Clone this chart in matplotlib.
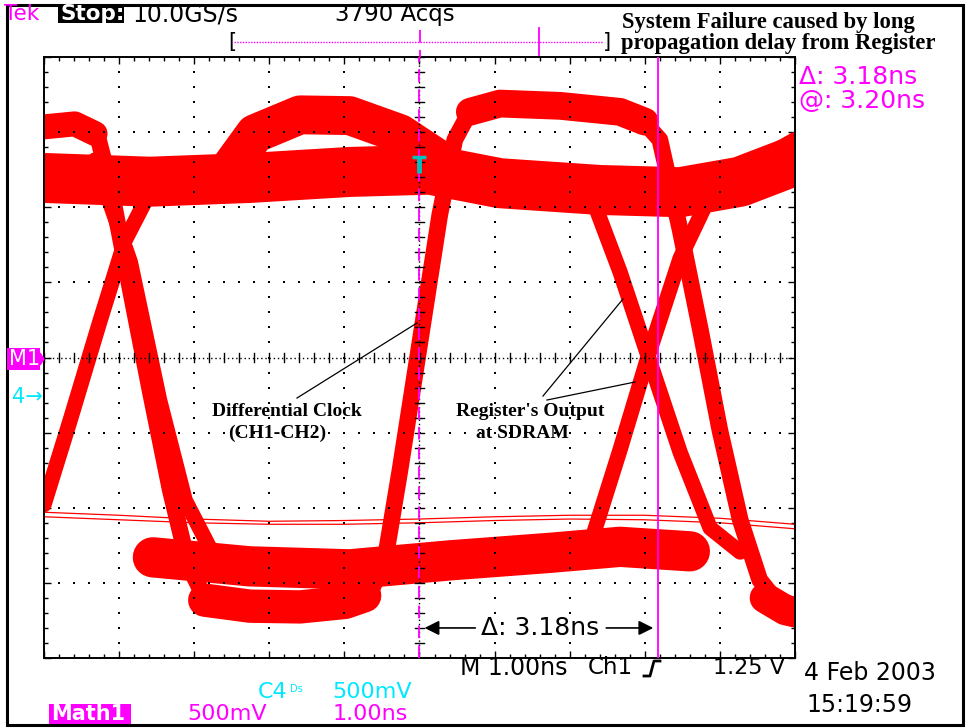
import numpy as np
import matplotlib.pyplot as plt
from matplotlib.patches import Rectangle, Polygon

# screen colours
RED = "#ff0000"
MAG = "#ff00ff"
CYAN = "#00e8ff"
TEAL = "#00c0c0"

# waveform readings: time in ns (1 ns/div), level in divisions
clk_t = [-5.0, -4.52, -4.28, -4.12, -3.85, -3.59, -3.32, -3.08, -2.86, -2.26, -1.59, -0.93,
         -0.63, -0.46, -0.26, 0.01, 0.27, 0.47, 0.67, 0.94, 2.40, 2.94, 3.20, 3.47, 3.74,
         4.00, 4.27, 4.53, 4.80, 5.0]
clk_v = [3.10, 3.11, 2.92, 2.30, 0.90, -0.43, -1.76, -2.76, -3.20, -3.31, -3.31, -3.23,
         -3.07, -2.70, -1.50, 0.23, 1.90, 2.90, 3.27, 3.36, 3.30, 3.19, 2.90, 1.70, 0.37,
         -0.97, -2.16, -2.96, -3.30, -3.39]

# flat parts of the clock (wider persistence)
clk_hi1_t = [-5.0, -4.59, -4.32]
clk_hi1_v = [3.07, 3.11, 2.98]
clk_lo1_t = [-2.86, -2.26, -1.59, -0.99, -0.73]
clk_lo1_v = [-3.23, -3.31, -3.32, -3.26, -3.17]
clk_hi2_t = [0.67, 1.07, 1.87, 2.67, 3.00]
clk_hi2_v = [3.27, 3.38, 3.35, 3.27, 3.14]
clk_lo2_t = [4.60, 4.87, 5.0]
clk_lo2_v = [-3.20, -3.36, -3.39]

hi_t = [-5.0, -3.59, -2.26, -0.93, 0.14, 1.07, 2.40, 3.47, 4.27, 5.0]
hi_v = [2.39, 2.34, 2.39, 2.47, 2.50, 2.32, 2.23, 2.20, 2.34, 2.62]

hump_t = [-2.59, -2.19, -1.59, -0.93, -0.26, 0.27]
hump_v = [2.43, 2.98, 3.23, 3.22, 2.98, 2.63]

lo_t = [-3.55, -2.26, -0.93, 0.41, 1.74, 2.67, 3.60]
lo_v = [-2.66, -2.78, -2.82, -2.70, -2.60, -2.52, -2.58]

fall1_t = [-4.32, -3.85, -3.46, -3.12, -2.79]
fall1_v = [2.63, 1.27, -0.57, -1.90, -2.54]
rise1_t = [-5.0, -4.65, -4.25, -3.92, -3.59]
rise1_v = [-1.96, -0.83, 0.50, 1.56, 2.20]
fall2_t = [2.27, 2.67, 3.07, 3.47, 3.87, 4.27]
fall2_v = [2.20, 1.14, -0.06, -1.26, -2.27, -2.59]
rise2_t = [2.27, 2.67, 3.07, 3.47, 3.87, 4.40, 5.0]
rise2_v = [-2.50, -1.23, 0.10, 1.32, 2.16, 2.56, 2.90]

ch4_t = [-5, -4, -3, -2, -1, 0, 1, 2, 3, 4, 5]
ch4_a = [-2.06, -2.10, -2.15, -2.18, -2.17, -2.15, -2.12, -2.10, -2.10, -2.14, -2.22]
ch4_b = [-2.12, -2.16, -2.20, -2.22, -2.22, -2.20, -2.17, -2.15, -2.16, -2.20, -2.28]

W, H = 968, 728
fig = plt.figure(figsize=(W / 100, H / 100), dpi=100)


def txt(x, y, s, **kw):
    fig.text(x / W, 1 - y / H, s, **kw)


def box(x0, y0, x1, y1, c):
    fig.add_artist(Rectangle((x0 / W, 1 - y1 / H), (x1 - x0) / W, (y1 - y0) / H,
                             transform=fig.transFigure, color=c, lw=0))


# outer frame
fig.add_artist(Rectangle((7 / W, 1 - 725 / H), 956 / W, 720 / H, transform=fig.transFigure,
                         fill=False, ec="k", lw=2.2))

ax = fig.add_axes([44 / W, 1 - 658 / H, 751 / W, 601 / H])
ax.set_xlim(-5, 5)
ax.set_ylim(-4, 4)
for s in ax.spines.values():
    s.set_linewidth(1.4)
ax.set_xticks(np.arange(-5, 5.01, 1))
ax.set_yticks(np.arange(-4, 4.01, 1))
ax.set_xticks(np.arange(-5, 5.01, 0.2), minor=True)
ax.set_yticks(np.arange(-4, 4.01, 0.2), minor=True)
ax.tick_params(which="both", direction="in", top=True, right=True,
               labelbottom=False, labelleft=False, width=1)
ax.tick_params(which="major", length=5)
ax.tick_params(which="minor", length=3)

# traces
kw = dict(color=RED, solid_capstyle="round", solid_joinstyle="round", zorder=2)
ax.plot(ch4_t, ch4_a, color=RED, lw=0.9, zorder=2)
ax.plot(ch4_t, ch4_b, color=RED, lw=0.9, zorder=2)
ax.plot(hi_t, hi_v, lw=36, **kw)
ax.plot(hump_t, hump_v, lw=28, **kw)
ax.plot(lo_t, lo_v, lw=29, **kw)
for tt, vv in [(fall1_t, fall1_v), (rise1_t, rise1_v), (fall2_t, fall2_v), (rise2_t, rise2_v)]:
    ax.plot(tt, vv, lw=11, **kw)
ax.plot(clk_t, clk_v, lw=12, **kw)
ax.plot(clk_hi1_t, clk_hi1_v, lw=18, **kw)
ax.plot(clk_lo1_t, clk_lo1_v, lw=24, **kw)
ax.plot(clk_hi2_t, clk_hi2_v, lw=20, **kw)
ax.plot(clk_lo2_t, clk_lo2_v, lw=22, **kw)

# graticule dots
fine = np.arange(-5, 5.01, 0.2)
fine_y = np.arange(-4, 4.01, 0.2)
for gx in [-4, -3, -2, -1, 1, 2, 3, 4]:
    ax.scatter(np.full(len(fine_y), gx), fine_y, s=1.6, marker="s", color="k", lw=0, zorder=5)
for gy in [-3, -2, -1, 1, 2, 3]:
    ax.scatter(fine, np.full(len(fine), gy), s=1.6, marker="s", color="k", lw=0, zorder=5)
ax.axhline(0, color="k", lw=1, ls=(0, (1, 2)), zorder=5)
ax.axvline(0, color="k", lw=1, ls=(0, (1, 2)), zorder=5)
for f in fine:
    ax.plot([f, f], [-0.055, 0.055], color="k", lw=1, zorder=5)
for f in fine_y:
    ax.plot([-0.055, 0.055], [f, f], color="k", lw=1, zorder=5)

# cursors
ax.axvline(0.0, color=MAG, lw=1.3, ls=(0, (7, 4)), zorder=6)
ax.axvline(3.18, color=MAG, lw=1.3, zorder=6)
ax.plot([-0.1, 0.08], [2.67, 2.67], color=TEAL, lw=2.5, zorder=7, solid_capstyle="butt")
ax.plot([0.0, 0.0], [2.67, 2.46], color=TEAL, lw=3.5, zorder=7, solid_capstyle="butt")

# delta arrow
ax.annotate("", xy=(0.03, -3.6), xytext=(0.78, -3.6),
            arrowprops=dict(arrowstyle="-|>", color="k", lw=1.2, mutation_scale=22))
ax.annotate("", xy=(3.15, -3.6), xytext=(2.45, -3.6),
            arrowprops=dict(arrowstyle="-|>", color="k", lw=1.2, mutation_scale=22))
ax.text(1.61, -3.6, "\u0394: 3.18ns", ha="center", va="center", fontsize=18,
        family="DejaVu Sans", zorder=8,
        bbox=dict(fc="white", ec="none", pad=1))

# annotation leaders
ax.plot([(297 - 419.5) / 75.1, (417 - 419.5) / 75.1],
        [(357.5 - 398) / 75.1, (357.5 - 323) / 75.1], color="k", lw=0.9, zorder=8)
ax.plot([(543 - 419.5) / 75.1, (623 - 419.5) / 75.1],
        [(357.5 - 396) / 75.1, (357.5 - 299) / 75.1], color="k", lw=0.9, zorder=8)
ax.plot([(547 - 419.5) / 75.1, (635 - 419.5) / 75.1],
        [(357.5 - 400) / 75.1, (357.5 - 382) / 75.1], color="k", lw=0.9, zorder=8)

serif = dict(family="Liberation Serif", weight="bold", fontsize=14, ha="center", va="center")
txt(287, 411, "Differential Clock", **serif)
txt(277, 433, "(CH1-CH2)", **serif)
txt(530, 412, "Register's Output", **serif)
txt(522, 434, "at SDRAM", **serif)

# header
sans = dict(family="DejaVu Sans", va="center")
txt(4, 14, "Tek", color=MAG, fontsize=15.5, **sans)
box(58, 5, 124, 23, "k")
txt(60, 14, "Stop:", color="white", fontsize=15.5, weight="bold", **sans)
txt(132, 14, "10.0GS/s", fontsize=17, **sans)
txt(335, 14, "3790 Acqs", fontsize=16.5, **sans)
txt(228, 42, "[", fontsize=15, **sans)
txt(603, 42, "]", fontsize=15, **sans)
fig.add_artist(plt.Line2D([234 / W, 603 / W], [1 - 42 / H, 1 - 42 / H], color=MAG, lw=1,
                          ls=(0, (1, 1)), transform=fig.transFigure))
fig.add_artist(plt.Line2D([539 / W, 539 / W], [1 - 28 / H, 1 - 55 / H], color=MAG, lw=1.3,
                          transform=fig.transFigure))
fig.add_artist(plt.Line2D([420 / W, 420 / W], [1 - 30 / H, 1 - 57 / H], color=MAG, lw=1.3,
                          ls=(0, (7, 4)), transform=fig.transFigure))

ttl = dict(family="Liberation Serif", weight="bold", fontsize=16.3, va="baseline")
txt(622, 28, "System Failure caused by long", **ttl)
txt(621, 49, "propagation delay from Register", **ttl)

txt(799, 77, "\u0394: 3.18ns", color=MAG, fontsize=18, **sans)
txt(799, 101, "@: 3.20ns", color=MAG, fontsize=18, **sans)

# side markers
box(7, 348, 40, 370, MAG)
fig.add_artist(Polygon([(40 / W, 1 - 353 / H), (44 / W, 1 - 359 / H), (40 / W, 1 - 365 / H)],
                       closed=True, transform=fig.transFigure, color=MAG))
txt(9, 359, "M1", color="white", fontsize=15, **sans)
txt(12, 397, "4\u2192", color=CYAN, fontsize=15, **sans)

# bottom readouts
txt(460, 668, "M 1.00ns", fontsize=17, **sans)
txt(588, 668, "Ch1", fontsize=16.5, **sans)
fig.add_artist(plt.Line2D([644 / W, 650 / W, 654 / W, 660 / W],
                          [1 - 676 / H, 1 - 676 / H, 1 - 661 / H, 1 - 661 / H],
                          color="k", lw=2, transform=fig.transFigure))
txt(713, 668, "1.25 V", fontsize=16, **sans)
txt(804, 673, "4 Feb 2003", fontsize=17, **sans)
txt(806, 705, "15:19:59", fontsize=17, **sans)

txt(258, 692, "C4", color=CYAN, fontsize=16, **sans)
txt(290, 689, "Ds", color=CYAN, fontsize=7, **sans)
txt(332, 692, "500mV", color=CYAN, fontsize=16, **sans)
box(49, 704, 131, 724, MAG)
txt(51, 714, "Math1", color="white", fontsize=15, weight="bold", **sans)
txt(187, 714, "500mV", color=MAG, fontsize=16, **sans)
txt(333, 714, "1.00ns", color=MAG, fontsize=16, **sans)

fig.savefig("out.png", dpi=100)
